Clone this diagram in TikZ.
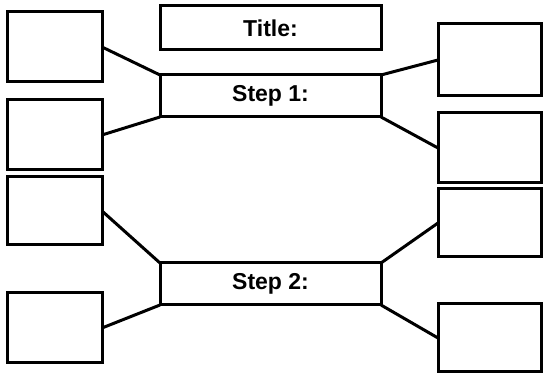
\documentclass[tikz,border=0pt]{standalone}
\usepackage{fontspec}
\setmainfont{Liberation Sans}
\begin{document}
\begin{tikzpicture}[x=1pt,y=1pt,line width=3pt,
  blank/.style={draw,rectangle,inner sep=0pt,outer sep=0pt,minimum width=95pt,minimum height=70pt},
  stepbox/.style={draw,rectangle,inner sep=0pt,outer sep=0pt,minimum width=221pt,minimum height=42pt,
                  font=\fontsize{23}{27}\selectfont\bfseries}]
  \def\lx{54.5}\def\rx{489.5}\def\cx{270.5}
  \useasboundingbox (0,0) rectangle (543,377);
  % middle column
  \node[stepbox,minimum height=44pt] (title) at (\cx,349) {Title:};
  \node[stepbox] (step1) at (\cx,281) {Step 1:};
  \node[stepbox] (step2) at (\cx,93) {Step 2:};
  % left column
  \node[blank] (l1) at (\lx,330) {};
  \node[blank] (l2) at (\lx,242) {};
  \node[blank,minimum height=68pt] (l3) at (\lx,166) {};
  \node[blank] (l4) at (\lx,49) {};
  % right column
  \node[blank,minimum width=103pt,minimum height=72pt] (r1) at (\rx,317) {};
  \node[blank,minimum width=103pt] (r2) at (\rx,229) {};
  \node[blank,minimum width=103pt,minimum height=68pt] (r3) at (\rx,154) {};
  \node[blank,minimum width=103pt,minimum height=68pt] (r4) at (\rx,39) {};
  \draw (l1.east)--(step1.north west) (l2.east)--(step1.south west)
        (r1.west)--(step1.north east) (r2.west)--(step1.south east);
  \draw (l3.east)--(step2.north west) (l4.east)--(step2.south west)
        (r3.west)--(step2.north east) (r4.west)--(step2.south east);
\end{tikzpicture}
\end{document}
